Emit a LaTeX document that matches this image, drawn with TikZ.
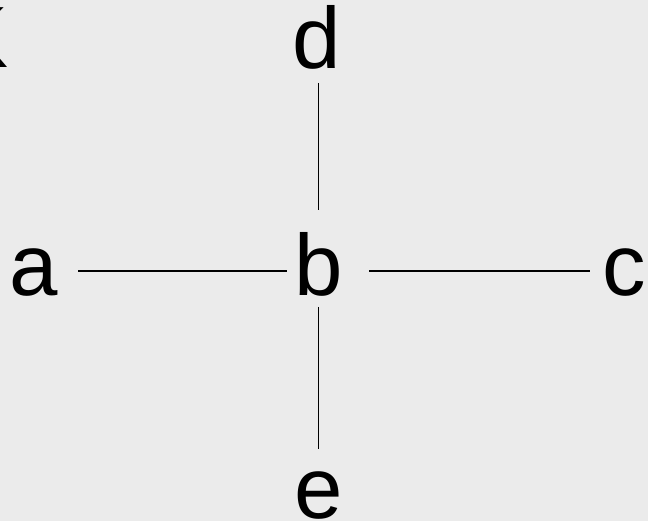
\documentclass[tikz,border=0pt]{standalone}
\usepackage{fontspec}
\setmainfont{Liberation Sans}
\usetikzlibrary{positioning}
\definecolor{canvas}{RGB}{235,235,235}
\tikzset{
  vtx/.style={inner sep=0pt, outer sep=0pt, anchor=base,
              font=\fontsize{87}{87}\selectfont,
              text height=62pt, text depth=12pt},
  edge/.style={line width=1.6pt, black},
}

\begin{document}
\begin{tikzpicture}[x=1pt, y=-1pt]
  \fill[canvas] (0,0) rectangle (648,521);
  \useasboundingbox (0,0) rectangle (648,521);
  \clip (0,0) rectangle (648,521);

  \node[vtx, anchor=base east] (k) at (8.5,68) {K};
  \node[vtx] (b) at (318.5,296) {b};
  \node[vtx] (a) at (34,296) {a};
  \node[vtx] (c) at (624,296) {c};
  \node[vtx] (d) at (317,69) {d};
  \node[vtx] (e) at (318.5,518) {e};

  \draw[edge, shorten <=20pt, shorten >=7.5pt] (a) -- (b);
  \draw[edge, shorten <=26.5pt, shorten >=12pt] (b) -- (c);
  \draw[edge, shorten <=2pt, shorten >=24pt] (d.south -| b) -- (b);
  \draw[edge, shorten <=-1pt, shorten >=7pt] (b) -- (e);

\end{tikzpicture}
\end{document}
